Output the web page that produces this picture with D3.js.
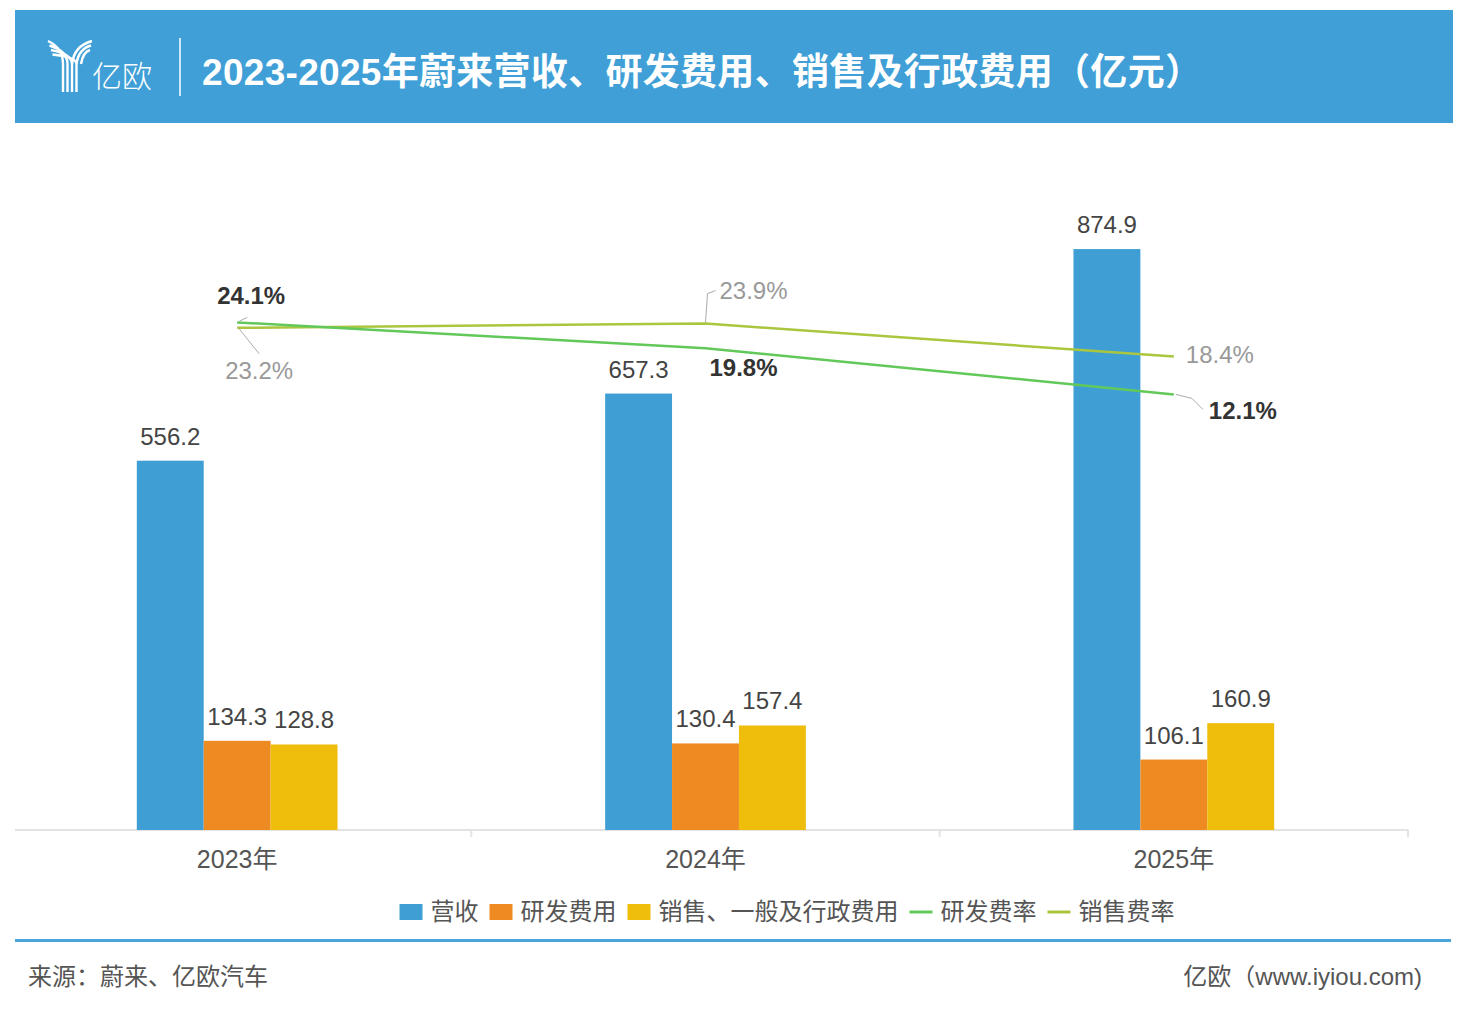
<!DOCTYPE html>
<html>
<head>
<meta charset="utf-8">
<script src="https://cdn.jsdelivr.net/npm/d3@7"></script>
<style>
  html, body { margin: 0; padding: 0; background: #fff; }
  svg { display: block; font-family: "Liberation Sans", "Noto Sans CJK SC", sans-serif; }
</style>
</head>
<body>
<div id="chart"></div>
<script>
// Chart data (亿元 / %)
const years = ["2023年", "2024年", "2025年"];
const revenue = [556.2, 657.3, 874.9];
const rdCost = [134.3, 130.4, 106.1];
const sgaCost = [128.8, 157.4, 160.9];
const rdRate = [24.1, 19.8, 12.1];
const salesRate = [23.2, 23.9, 18.4];

const barSeries = [
    {name: "营收", values: revenue, color: "#3f9fd5"},
    {name: "研发费用", values: rdCost, color: "#ee8a22"},
    {name: "销售、一般及行政费用", values: sgaCost, color: "#efbd0b"}
];
const lineSeries = [
    {name: "研发费率", values: rdRate, color: "#62c85a"},
    {name: "销售费率", values: salesRate, color: "#aac63f"}
];

const W = 1466, H = 1010;
const baseY = 830;

const svg = d3.select("#chart").append("svg")
    .attr("width", W)
    .attr("height", H);

// Header band
svg.append("rect")
    .attr("x", 15).attr("y", 10)
    .attr("width", 1438).attr("height", 113)
    .attr("fill", "#3f9fd6");

// Logo: striped "Y"
const logo = svg.append("g")
    .attr("fill", "none")
    .attr("stroke", "#fff")
    .attr("stroke-width", 2.4);
[0, 1, 2, 3].forEach(i => {
    const sx = 63 + i * 4.5;
    // left arm
    logo.append("path")
        .attr("d", `M${48 + i * 1.5},${41 + i * 4.5} Q${sx},${48 + i * 3} ${sx},${64} L${sx},92`);
});
[0, 1, 2].forEach(i => {
    const sx = 72 + i * 4.5;
    logo.append("path")
        .attr("d", `M${92 - i * 1},${41 + i * 4.5} Q${sx + 2},${46 + i * 3} ${sx},${64}`);
});
svg.append("text")
    .attr("x", 92).attr("y", 87)
    .attr("fill", "#fff")
    .style("font-size", "30px")
    .style("font-weight", 300)
    .text("亿欧");
svg.append("line")
    .attr("x1", 180).attr("x2", 180)
    .attr("y1", 38).attr("y2", 96)
    .attr("stroke", "#fff")
    .attr("stroke-width", 1.5);
svg.append("text")
    .attr("x", 202).attr("y", 85)
    .attr("fill", "#fff")
    .style("font-size", "37px")
    .style("font-weight", "bold")
    .style("letter-spacing", "0.3px")
    .text("2023-2025年蔚来营收、研发费用、销售及行政费用（亿元）");

// Scales
const x = d3.scaleBand()
    .domain(years)
    .range([3, 1408]);

const xSub = d3.scaleBand()
    .domain(barSeries.map(s => s.name))
    .range([0, x.bandwidth()])
    .paddingInner(0)
    .paddingOuter(2);

const y = d3.scaleLinear()
    .domain([0, 1000])
    .range([baseY, 166]);

const yRate = d3.scaleLinear()
    .domain([0, 50])
    .range([467, 167]);

// X axis
const xAxis = svg.append("g")
    .attr("transform", `translate(0,${baseY})`);
xAxis.append("line")
    .attr("x1", 15).attr("x2", 1408)
    .attr("stroke", "#e3e3e3")
    .attr("stroke-width", 2);
xAxis.selectAll(".tick-mark")
    .data(years)
    .enter()
    .append("line")
    .attr("x1", d => x(d) + x.bandwidth())
    .attr("x2", d => x(d) + x.bandwidth())
    .attr("y1", 0).attr("y2", 7)
    .attr("stroke", "#e3e3e3")
    .attr("stroke-width", 2);
xAxis.selectAll(".cat-label")
    .data(years)
    .enter()
    .append("text")
    .attr("x", d => x(d) + x.bandwidth() / 2)
    .attr("y", 38)
    .attr("text-anchor", "middle")
    .attr("fill", "#555")
    .style("font-size", "25px")
    .text(d => d);

// Bars
barSeries.forEach(s => {
    const g = svg.append("g");
    g.selectAll("rect")
        .data(s.values)
        .enter()
        .append("rect")
        .attr("x", (d, i) => x(years[i]) + xSub(s.name))
        .attr("y", d => y(d))
        .attr("width", xSub.bandwidth())
        .attr("height", d => baseY - y(d))
        .attr("fill", s.color);
    g.selectAll("text")
        .data(s.values)
        .enter()
        .append("text")
        .attr("x", (d, i) => x(years[i]) + xSub(s.name) + xSub.bandwidth() / 2)
        .attr("y", d => y(d) - 16)
        .attr("text-anchor", "middle")
        .attr("fill", "#444")
        .style("font-size", "24px")
        .text(d => d.toFixed(1));
});

// Rate lines
const cx = i => x(years[i]) + x.bandwidth() / 2;
const line = d3.line()
    .x((d, i) => cx(i))
    .y(d => yRate(d));

lineSeries.slice().reverse().forEach(s => {
    svg.append("path")
        .datum(s.values)
        .attr("fill", "none")
        .attr("stroke", s.color)
        .attr("stroke-width", 2.5)
        .attr("d", line);
});

// Rate labels: offsets relative to the point, optional leader path
const rateLabelLayout = [
    // 研发费率
    [
        {dx: 14, dy: -18, anchor: "middle", leader: [[2, -1], [10, -5]]},
        {dx: 38, dy: 28, anchor: "middle", leader: null},
        {dx: 35, dy: 25, anchor: "start", leader: [[2, 0], [18, 4], [29, 15]]}
    ],
    // 销售费率
    [
        {dx: 22, dy: 51, anchor: "middle", leader: [[2, 1], [22, 26]]},
        {dx: 14, dy: -25, anchor: "start", leader: [[0, -1], [2, -30], [10, -33]]},
        {dx: 12, dy: 6, anchor: "start", leader: null}
    ]
];
const labelStyles = [
    {fill: "#333", weight: "bold"},
    {fill: "#999", weight: "normal"}
];

lineSeries.forEach((s, si) => {
    s.values.forEach((v, i) => {
        const px = cx(i), py = yRate(v);
        const lay = rateLabelLayout[si][i];
        if (lay.leader) {
            svg.append("path")
                .attr("d", d3.line()(lay.leader.map(p => [px + p[0], py + p[1]])))
                .attr("fill", "none")
                .attr("stroke", "#aaa")
                .attr("stroke-width", 1);
        }
        svg.append("text")
            .attr("x", px + lay.dx)
            .attr("y", py + lay.dy)
            .attr("text-anchor", lay.anchor)
            .attr("fill", labelStyles[si].fill)
            .style("font-weight", labelStyles[si].weight)
            .style("font-size", "24px")
            .text(v.toFixed(1) + "%");
    });
});

// Legend
const legendItems = barSeries.map(s => ({name: s.name, color: s.color, type: "rect"}))
    .concat(lineSeries.map(s => ({name: s.name, color: s.color, type: "line"})));
const legend = svg.append("g");
let lx = 0;
legendItems.forEach(item => {
    const g = legend.append("g").attr("transform", `translate(${lx},0)`);
    if (item.type === "rect") {
        g.append("rect")
            .attr("x", 0).attr("y", -8)
            .attr("width", 23).attr("height", 16)
            .attr("fill", item.color);
    } else {
        g.append("line")
            .attr("x1", 0).attr("x2", 23)
            .attr("y1", 0).attr("y2", 0)
            .attr("stroke", item.color)
            .attr("stroke-width", 3);
    }
    const t = g.append("text")
        .attr("x", 31).attr("y", 8)
        .attr("fill", "#555")
        .style("font-size", "24px")
        .text(item.name);
    lx += 31 + t.node().getComputedTextLength() + 11;
});
const legendWidth = lx - 11;
legend.attr("transform", `translate(${787 - legendWidth / 2},912)`);

// Bottom rule and footer
svg.append("rect")
    .attr("x", 15).attr("y", 939)
    .attr("width", 1436).attr("height", 3)
    .attr("fill", "#4aa6da");
svg.append("text")
    .attr("x", 28).attr("y", 985)
    .attr("fill", "#555")
    .style("font-size", "24px")
    .text("来源：蔚来、亿欧汽车");
svg.append("text")
    .attr("x", 1422).attr("y", 985)
    .attr("text-anchor", "end")
    .attr("fill", "#555")
    .style("font-size", "24px")
    .text("亿欧（www.iyiou.com)");
</script>
</body>
</html>
